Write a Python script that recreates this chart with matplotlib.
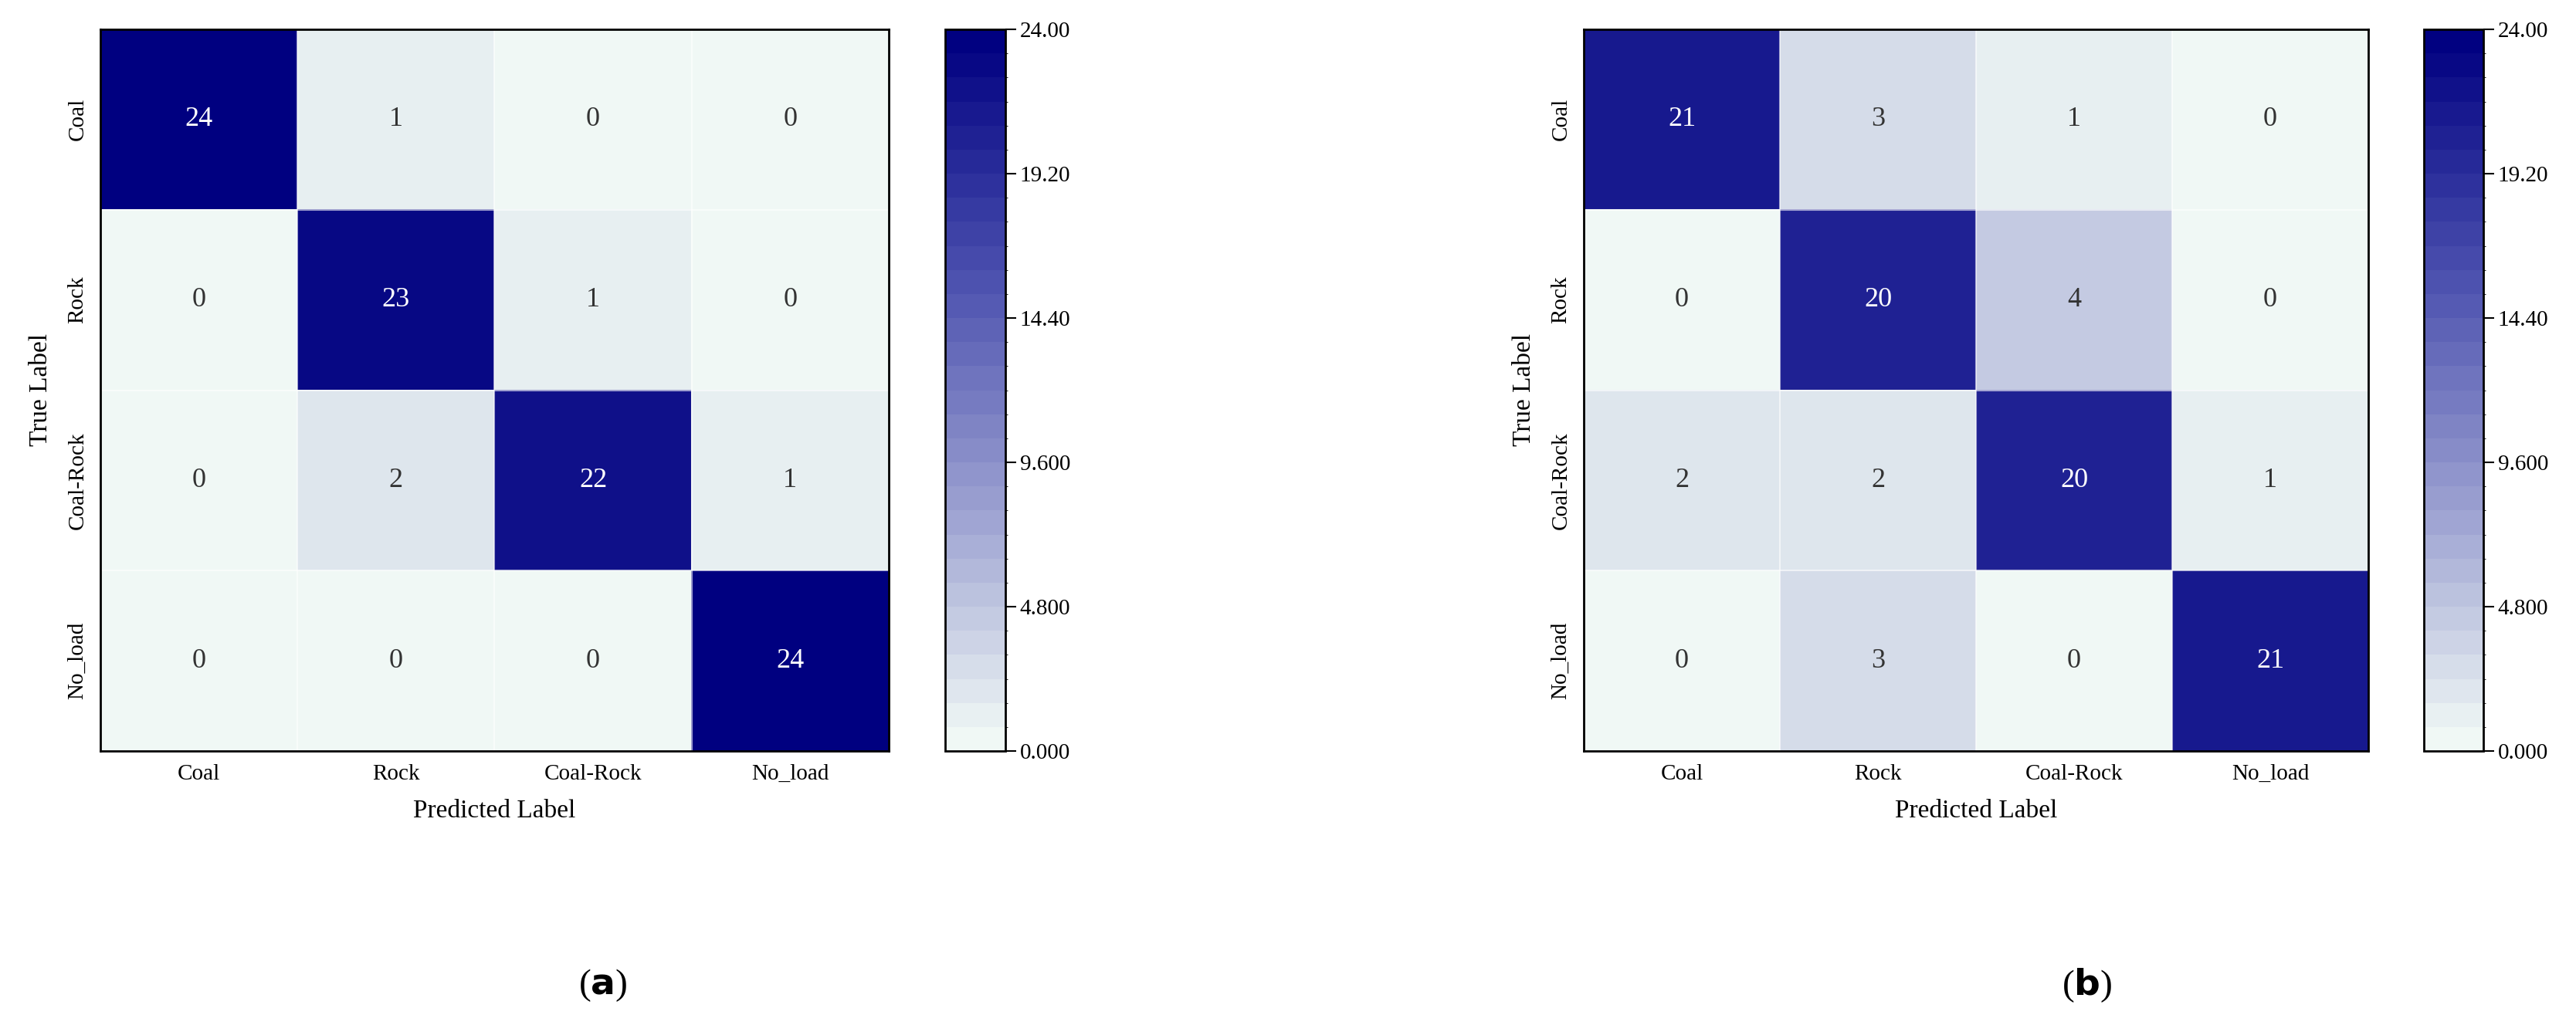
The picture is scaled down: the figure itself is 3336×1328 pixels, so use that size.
import matplotlib
matplotlib.use("Agg")
import matplotlib.pyplot as plt
import numpy as np
from matplotlib.colors import LinearSegmentedColormap, BoundaryNorm

classes = ["Coal", "Rock", "Coal-Rock", "No_load"]
cm_a = [[24, 1, 0, 0],
        [0, 23, 1, 0],
        [0, 2, 22, 1],
        [0, 0, 0, 24]]
cm_b = [[21, 3, 1, 0],
        [0, 20, 4, 0],
        [2, 2, 20, 1],
        [0, 3, 0, 21]]
panel_labels = ["a", "b"]
cbar_ticks = [0.0, 4.8, 9.6, 14.4, 19.2, 24.0]
cbar_ticklabels = ["0.000", "4.800", "9.600", "14.40", "19.20", "24.00"]

plt.rcParams['font.family'] = ['Liberation Serif', 'DejaVu Serif']
cmap = LinearSegmentedColormap.from_list("cb", ["#f0f8f5", "#9a9fd0", "#4a4fae", "#000080"])
levels = np.linspace(0, 24, 31)
norm = BoundaryNorm(levels, cmap.N)

W, H = 3337, 1328
fig = plt.figure(figsize=(W/100, H/100), dpi=100)

def rect(x0, y0, x1, y1):
    return [x0/W, 1 - y1/H, (x1-x0)/W, (y1-y0)/H]

panels = [
    (cm_a, rect(130, 38, 1151, 973), rect(1224, 38, 1302, 973), 547),
    (cm_b, rect(2051, 38, 3067, 973), rect(3139, 38, 3216, 973), 2469),
]
for (cm, r, cr, lx), pl in zip(panels, panel_labels):
    ax = fig.add_axes(r)
    data = np.array(cm)
    im = ax.imshow(data, cmap=cmap, norm=norm, aspect='auto')
    for i in range(4):
        for j in range(4):
            v = data[i, j]
            ax.text(j, i, str(v), ha='center', va='center', fontsize=26,
                    color='white' if v > 12 else '#333333')
    for k in range(1, 4):
        ax.axhline(k - 0.5, color='white', lw=1.5, alpha=0.6)
        ax.axvline(k - 0.5, color='white', lw=1.5, alpha=0.6)
    ax.set_xticks(range(4))
    ax.set_xticklabels(classes, fontsize=21)
    ax.set_yticks(range(4))
    ax.set_yticklabels(classes, fontsize=21, rotation=90, va='center')
    ax.tick_params(length=0, pad=12)
    ax.set_xlabel("Predicted Label", fontsize=24, labelpad=14)
    ax.set_ylabel("True Label", fontsize=24, labelpad=14)
    for s in ax.spines.values():
        s.set_linewidth(2)
    cax = fig.add_axes(cr)
    cb = fig.colorbar(im, cax=cax, ticks=cbar_ticks)
    cb.ax.set_yticklabels(cbar_ticklabels, fontsize=21)
    cb.ax.tick_params(length=10, width=1.5)
    cb.outline.set_linewidth(2)
    fig.text(lx/W, 1 - 1700/2.128/H*2.128/ (1700/1277) / H * H if False else 1 - 1277/H,
             "(", fontsize=1, alpha=0)
    fig.text(lx/W + 0.07, 1 - 1277/H, f"({pl})", fontsize=34, ha='center', va='center')
    fig.texts[-1].set_text(f"(${{\\bf {pl}}}$)")

fig.savefig("out.png", dpi=100)
